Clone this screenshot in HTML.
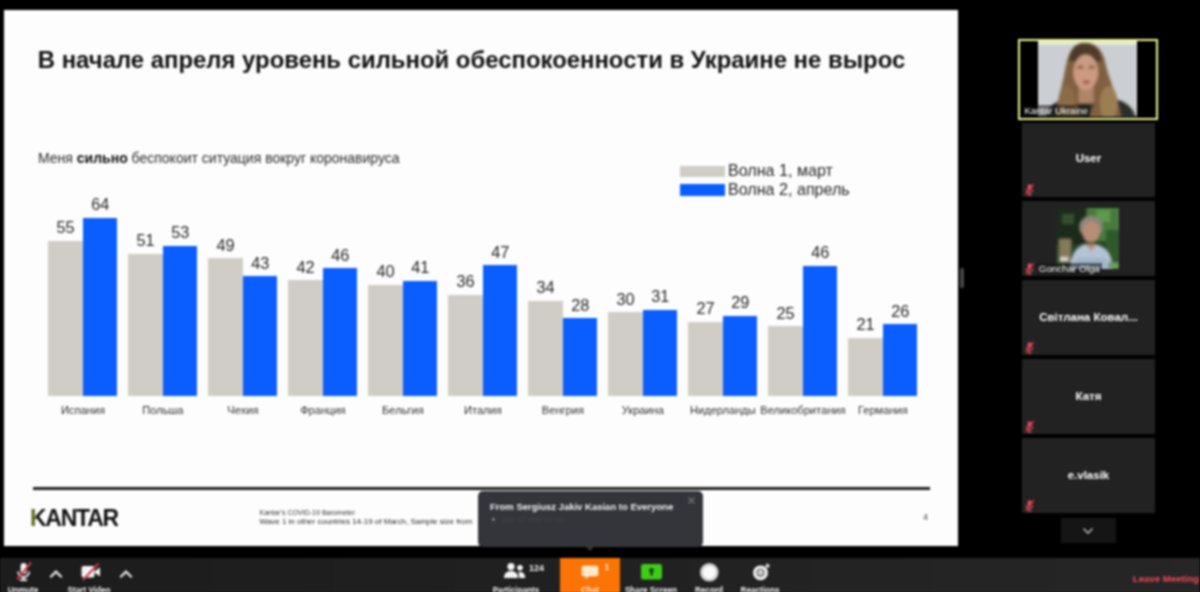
<!DOCTYPE html>
<html lang="ru"><head><meta charset="utf-8"><title>Zoom Meeting</title>
<style>
*{box-sizing:border-box;margin:0;padding:0}
html,body{position:relative;width:1200px;height:592px;overflow:hidden;background:#000;font-family:"Liberation Sans",sans-serif}
#root{position:absolute;left:-10px;top:-10px;width:1220px;height:612px;background:#000;filter:blur(.8px)}
#in{position:absolute;left:10px;top:10px;width:1200px;height:592px}
#slide{position:absolute;left:3.8px;top:10.4px;width:954px;height:535.3px;background:#fdfdfd}
#abs{position:absolute;left:0;top:0;width:1200px;height:592px}
.title{position:absolute;left:37.8px;top:45.5px;font-size:23.9px;font-weight:bold;color:#111;white-space:nowrap;letter-spacing:0px}
.sub{position:absolute;left:38px;top:150.2px;font-size:14px;color:#2c2c2c;white-space:nowrap}
.sub b{color:#111}
.bar{position:absolute;width:34.6px}
.bar.g{background:#d0cdc7}
.bar.b{background:#0a5eff;width:34.4px}
.val{position:absolute;width:40px;text-align:center;font-size:16.3px;line-height:18px;color:#262626}
.cat{position:absolute;width:100px;text-align:center;font-size:11.1px;line-height:14px;color:#303030;white-space:nowrap}
.leg{position:absolute;left:679.5px;width:45.5px;height:11.4px}
.legt{position:absolute;left:728px;font-size:16.1px;line-height:18px;color:#262626;white-space:nowrap}
.hr{position:absolute;left:32.5px;top:486.5px;width:897px;height:3px;background:#222}
.kantar{position:absolute;left:30px;top:505.8px;font-size:23px;line-height:24px;font-weight:bold;color:transparent;letter-spacing:-1.25px;white-space:nowrap;background:linear-gradient(90deg,#5f6a1c 0,#5f6a1c 6.3px,#111 6.3px);-webkit-background-clip:text;background-clip:text}
.foot1{position:absolute;left:259.5px;top:508.3px;font-size:7.05px;line-height:9px;color:#333;white-space:nowrap}
.foot2{position:absolute;left:259.5px;top:516.5px;font-size:8px;line-height:10px;color:#2a2a2a;white-space:nowrap}
.pn{position:absolute;left:923px;top:512px;font-size:9px;color:#444}
#bar{position:absolute;left:0;top:557.8px;width:1200px;height:35px;background:linear-gradient(90deg,#1c1c1c,#212121 50%,#262626)}
.tile{position:absolute;left:1022.3px;width:132.3px;height:74.5px;background:#222}
.tname{position:absolute;left:0;right:0;top:27.3px;text-align:center;color:#fff;font-weight:bold;font-size:11.5px;line-height:16px;white-space:nowrap}
.mic{position:absolute;left:1.5px;bottom:0.5px;width:11px;height:13.5px}
.lbl{position:absolute;color:#fff;font-size:9px;line-height:11px;white-space:nowrap}
.photo{position:absolute;left:34px;top:6.3px;width:63.2px;height:61px}
.tb{position:absolute;color:#f4f4f4;font-size:9.6px;font-weight:bold;white-space:nowrap;text-align:center;width:80px;top:584.4px;line-height:12px;transform:scaleX(.85)}
.car{position:absolute;top:568.5px;width:14px;height:10px}
</style></head><body>
<div id="root"><div id="in">
<div id="slide"></div>
<div id="abs">
<div class="title">В начале апреля уровень сильной обеспокоенности в Украине не вырос</div>
<div class="sub">Меня <b>сильно</b> беспокоит ситуация вокруг коронавируса</div>
<div class="leg" style="top:165.6px;background:#d0cdc7"></div>
<div class="leg" style="top:184.3px;background:#0a5eff"></div>
<div class="legt" style="top:160.7px">Волна 1, март</div>
<div class="legt" style="top:179.6px">Волна 2, апрель</div>
<div class="bar g" style="left:48.3px;top:240.5px;height:155.5px"></div>
<div class="bar b" style="left:83.1px;top:217.8px;height:178.2px"></div>
<div class="val" style="left:45.6px;top:217.8px">55</div>
<div class="val" style="left:80.3px;top:195.1px">64</div>
<div class="cat" style="left:32.9px;top:403px">Испания</div>
<div class="bar g" style="left:128.3px;top:253.7px;height:142.3px"></div>
<div class="bar b" style="left:163.1px;top:246.0px;height:150.0px"></div>
<div class="val" style="left:125.6px;top:231.0px">51</div>
<div class="val" style="left:160.3px;top:223.3px">53</div>
<div class="cat" style="left:112.9px;top:403px">Польша</div>
<div class="bar g" style="left:208.3px;top:258.4px;height:137.6px"></div>
<div class="bar b" style="left:243.1px;top:276.4px;height:119.6px"></div>
<div class="val" style="left:205.6px;top:235.7px">49</div>
<div class="val" style="left:240.3px;top:253.7px">43</div>
<div class="cat" style="left:192.9px;top:403px">Чехия</div>
<div class="bar g" style="left:288.3px;top:280.2px;height:115.8px"></div>
<div class="bar b" style="left:323.1px;top:268.2px;height:127.8px"></div>
<div class="val" style="left:285.6px;top:257.5px">42</div>
<div class="val" style="left:320.3px;top:245.5px">46</div>
<div class="cat" style="left:272.9px;top:403px">Франция</div>
<div class="bar g" style="left:368.3px;top:284.5px;height:111.5px"></div>
<div class="bar b" style="left:403.1px;top:280.8px;height:115.2px"></div>
<div class="val" style="left:365.6px;top:261.8px">40</div>
<div class="val" style="left:400.3px;top:258.1px">41</div>
<div class="cat" style="left:352.9px;top:403px">Бельгия</div>
<div class="bar g" style="left:448.3px;top:294.6px;height:101.4px"></div>
<div class="bar b" style="left:483.1px;top:265.2px;height:130.8px"></div>
<div class="val" style="left:445.6px;top:271.9px">36</div>
<div class="val" style="left:480.3px;top:242.5px">47</div>
<div class="cat" style="left:432.9px;top:403px">Италия</div>
<div class="bar g" style="left:528.3px;top:301.0px;height:95.0px"></div>
<div class="bar b" style="left:563.1px;top:318.3px;height:77.7px"></div>
<div class="val" style="left:525.6px;top:278.3px">34</div>
<div class="val" style="left:560.3px;top:295.6px">28</div>
<div class="cat" style="left:512.9px;top:403px">Венгрия</div>
<div class="bar g" style="left:608.3px;top:312.4px;height:83.6px"></div>
<div class="bar b" style="left:643.1px;top:310.0px;height:86.0px"></div>
<div class="val" style="left:605.6px;top:289.7px">30</div>
<div class="val" style="left:640.3px;top:287.3px">31</div>
<div class="cat" style="left:592.9px;top:403px">Украина</div>
<div class="bar g" style="left:688.3px;top:321.6px;height:74.4px"></div>
<div class="bar b" style="left:723.1px;top:316.1px;height:79.9px"></div>
<div class="val" style="left:685.6px;top:298.9px">27</div>
<div class="val" style="left:720.3px;top:293.4px">29</div>
<div class="cat" style="left:672.9px;top:403px">Нидерланды</div>
<div class="bar g" style="left:768.3px;top:326.3px;height:69.7px"></div>
<div class="bar b" style="left:803.1px;top:265.5px;height:130.5px"></div>
<div class="val" style="left:765.6px;top:303.6px">25</div>
<div class="val" style="left:800.3px;top:242.8px">46</div>
<div class="cat" style="left:752.9px;top:403px">Великобритания</div>
<div class="bar g" style="left:848.3px;top:337.7px;height:58.3px"></div>
<div class="bar b" style="left:883.1px;top:324.4px;height:71.6px"></div>
<div class="val" style="left:845.6px;top:315.0px">21</div>
<div class="val" style="left:880.3px;top:301.7px">26</div>
<div class="cat" style="left:832.9px;top:403px">Германия</div>
<div class="hr"></div>
<div class="kantar">KANTAR</div>
<div class="foot1">Kantar’s COVID-19 Barometer</div>
<div class="foot2">Wave 1 in other countries 14-19 of March, Sample size from &nbsp; 500 to 1000 interviews</div>
<div class="pn">4</div>

<!-- right panel -->
<div id="spk" style="position:absolute;left:1018.4px;top:38.8px;width:139.2px;height:81.6px;background:#000;border:2.8px solid #eef792">
<svg style="position:absolute;left:17.5px;top:0.4px;width:99.5px;height:75.6px" viewBox="0 0 100 75" preserveAspectRatio="none"><defs><filter id="bl" x="-10%" y="-10%" width="120%" height="120%"><feGaussianBlur stdDeviation="1.3"/></filter><clipPath id="vc"><rect width="100" height="75"/></clipPath></defs><g clip-path="url(#vc)"><rect width="100" height="75" fill="#cbcfd3"/><rect width="100" height="4" fill="#e4ead0"/><g filter="url(#bl)"><path d="M8 78C9 62 22 57 36 57L66 57C82 56 96 63 99 78Z" fill="#2a2d29"/><path d="M47 2C31 2 29 20 26 35C23 50 18 62 18 78L84 78C82 60 73 42 69 27C66 9 59 2 47 2Z" fill="#80613f"/><path d="M47 2C36 2 32 10 31 20L64 20C62 8 57 2 47 2Z" fill="#4e3a29"/><ellipse cx="71" cy="62" rx="9" ry="17" fill="#9c7e52"/><ellipse cx="29" cy="60" rx="8" ry="16" fill="#8b6c47"/><rect x="41" y="44" width="15" height="18" fill="#b08468"/><ellipse cx="48" cy="31" rx="12.500" ry="17.500" fill="#cb9a80"/><ellipse cx="42.500" cy="26" rx="3.200" ry="1.600" fill="#8a5e4c"/><ellipse cx="54" cy="26" rx="3.200" ry="1.600" fill="#8a5e4c"/><ellipse cx="48.500" cy="41" rx="3.500" ry="1.700" fill="#a44a48"/><path d="M40 62L57 62L50 78L44 78Z" fill="#3a3a34"/></g></g></svg>
<div class="lbl" style="left:2px;bottom:1px;font-size:9.5px;line-height:12px;background:rgba(10,10,10,.5);padding:0 2px">Kantar Ukraine</div>
</div>
<div class="tile" style="top:122.5px"><div class="tname" style="top:27.8px">User</div><svg class="mic" viewBox="0 0 12 14"><rect x="4" y="1" width="4" height="7" rx="2" fill="#e0525f"/><path d="M2.5 6.5a3.5 3.5 0 0 0 7 0M6 10v2.5M3.5 12.8h5" stroke="#e0525f" stroke-width="1.2" fill="none"/><path d="M10.5 1L2 12" stroke="#f03a4a" stroke-width="1.5"/></svg></div>
<div class="tile" style="top:201.3px"><svg class="photo" viewBox="0 0 63 61" preserveAspectRatio="none"><defs><filter id="bl2" x="-10%" y="-10%" width="120%" height="120%"><feGaussianBlur stdDeviation="1.1"/></filter><clipPath id="pc"><rect width="63" height="61"/></clipPath></defs><g clip-path="url(#pc)"><rect width="63" height="61" fill="#2c4528"/><g filter="url(#bl2)"><rect x="-3" y="-3" width="33" height="40" fill="#1d2b1d"/><rect x="31" y="-3" width="36" height="36" fill="#477a3c"/><rect x="50" y="22" width="16" height="30" fill="#2f5a2a"/><rect x="40" y="2" width="14" height="12" fill="#5c9a4e"/><rect x="6" y="6" width="12" height="10" fill="#34502f"/><rect x="3" y="31" width="12" height="24" fill="#85795a"/><rect x="4" y="49" width="8" height="4" fill="#d8d8cc"/><path d="M14 64C14 44 22 36 34 36C48 36 56 44 57 64Z" fill="#b4c4d6"/><path d="M20 50L50 50L52 64L18 64Z" fill="#9fb4cc"/><ellipse cx="35" cy="19" rx="11.500" ry="11" fill="#8f877c"/><ellipse cx="35" cy="24" rx="8.500" ry="10.500" fill="#b98c76"/><path d="M29 36L41 36L35 43Z" fill="#b98c76"/><rect x="52" y="54" width="11" height="7" fill="#6f9a5c"/></g></g></svg><div class="lbl" style="left:14.5px;bottom:0.5px;font-size:9.8px;line-height:12px;background:rgba(20,20,20,.55);padding:0 2px">Gonchar Olga</div><svg class="mic" viewBox="0 0 12 14"><rect x="4" y="1" width="4" height="7" rx="2" fill="#e0525f"/><path d="M2.5 6.5a3.5 3.5 0 0 0 7 0M6 10v2.5M3.5 12.8h5" stroke="#e0525f" stroke-width="1.2" fill="none"/><path d="M10.5 1L2 12" stroke="#f03a4a" stroke-width="1.5"/></svg></div>
<div class="tile" style="top:280.1px"><div class="tname" style="top:29.3px">Світлана Ковал...</div><svg class="mic" viewBox="0 0 12 14"><rect x="4" y="1" width="4" height="7" rx="2" fill="#e0525f"/><path d="M2.5 6.5a3.5 3.5 0 0 0 7 0M6 10v2.5M3.5 12.8h5" stroke="#e0525f" stroke-width="1.2" fill="none"/><path d="M10.5 1L2 12" stroke="#f03a4a" stroke-width="1.5"/></svg></div>
<div class="tile" style="top:359.0px"><div class="tname" style="top:29.3px">Катя</div><svg class="mic" viewBox="0 0 12 14"><rect x="4" y="1" width="4" height="7" rx="2" fill="#e0525f"/><path d="M2.5 6.5a3.5 3.5 0 0 0 7 0M6 10v2.5M3.5 12.8h5" stroke="#e0525f" stroke-width="1.2" fill="none"/><path d="M10.5 1L2 12" stroke="#f03a4a" stroke-width="1.5"/></svg></div>
<div class="tile" style="top:438.0px"><div class="tname" style="top:29.3px">e.vlasik</div><svg class="mic" viewBox="0 0 12 14"><rect x="4" y="1" width="4" height="7" rx="2" fill="#e0525f"/><path d="M2.5 6.5a3.5 3.5 0 0 0 7 0M6 10v2.5M3.5 12.8h5" stroke="#e0525f" stroke-width="1.2" fill="none"/><path d="M10.5 1L2 12" stroke="#f03a4a" stroke-width="1.5"/></svg></div>
<div style="position:absolute;left:1061px;top:518px;width:54.5px;height:25px;background:#151515"></div>
<svg style="position:absolute;left:1081px;top:526px;width:14px;height:10px" viewBox="0 0 14 10"><path d="M2.5 2.5L7 7l4.5-4.5" stroke="#b0b0b0" stroke-width="1.6" fill="none"/></svg>
<div style="position:absolute;left:960.3px;top:267.5px;width:4px;height:20px;background:#464646;border-radius:1.5px"></div>

<!-- toolbar -->
<div id="bar"></div>
<div style="position:absolute;left:560.3px;top:557.5px;width:60px;height:35px;background:#fb7405"></div>
<!-- mic -->
<svg style="position:absolute;left:13px;top:561px;width:22px;height:22px" viewBox="0 0 22 22"><rect x="7.6" y="2" width="6" height="11" rx="3" fill="#f4f4f4"/><path d="M5 10.5a5.6 5.6 0 0 0 11.2 0" stroke="#f4f4f4" stroke-width="1.7" fill="none"/><path d="M10.6 16v3M7 19.2h7.2" stroke="#f4f4f4" stroke-width="1.8" fill="none"/><path d="M18 1.5L4.2 18.5" stroke="#d23a4e" stroke-width="2"/></svg>
<svg class="car" style="left:49px" viewBox="0 0 14 10"><path d="M1.300 8.300L7 2.600l5.700 5.700" stroke="#e2e2e2" stroke-width="2.300" fill="none"/></svg>
<!-- video -->
<svg style="position:absolute;left:79px;top:561px;width:24px;height:22px" viewBox="0 0 24 22"><rect x="2.5" y="5" width="13" height="11.5" rx="2" fill="#f4f4f4"/><path d="M15.5 10.5l5.5-4v9l-5.5-4z" fill="#f4f4f4"/><path d="M19.5 2.5L4 19" stroke="#d23a4e" stroke-width="2"/></svg>
<svg class="car" style="left:119px" viewBox="0 0 14 10"><path d="M1.300 8.300L7 2.600l5.700 5.700" stroke="#e2e2e2" stroke-width="2.300" fill="none"/></svg>
<!-- participants -->
<svg style="position:absolute;left:503px;top:562px;width:23px;height:17px" viewBox="0 0 23 17"><circle cx="8" cy="4.6" r="3.6" fill="#f4f4f4"/><path d="M1 16c0-5 3-7 7-7s7 2 7 7z" fill="#f4f4f4"/><circle cx="17" cy="5.8" r="2.8" fill="#f4f4f4"/><path d="M15.2 10.2c4-1 7 1 7 5.8h-6c0-2.600-.3-4.400-1-5.800z" fill="#f4f4f4"/></svg>
<div style="position:absolute;left:529px;top:562.5px;font-size:9px;line-height:11px;font-weight:bold;color:#f0f0f0">124</div>
<!-- chat -->
<svg style="position:absolute;left:581px;top:564.5px;width:18px;height:15px" viewBox="0 0 18 15"><path d="M2.500.8h13a1.800 1.800 0 0 1 1.800 1.800v6.800a1.800 1.800 0 0 1-1.800 1.800H8l-3.200 3v-3H2.500a1.800 1.800 0 0 1-1.800-1.800V2.600A1.800 1.800 0 0 1 2.500.8z" fill="#ffe9cf"/></svg>
<div style="position:absolute;left:604.5px;top:562px;font-size:9px;line-height:11px;font-weight:bold;color:#ffe3c2">1</div>
<!-- share -->
<svg style="position:absolute;left:640.5px;top:564.3px;width:21px;height:15.600px" viewBox="0 0 21 15.600"><rect x="0" y="0" width="21" height="15.600" rx="2.500" fill="#3fcc19"/><path d="M10.500 3.500l3.400 3.800h-2.200v4.200h-2.400V7.300H7.100z" fill="#14380c"/></svg>
<!-- record -->
<svg style="position:absolute;left:699px;top:562px;width:21px;height:21px" viewBox="0 0 21 21"><circle cx="10.300" cy="10.300" r="9.300" fill="#cdcdcd"/><circle cx="10.300" cy="10.300" r="6.600" fill="#fafafa"/></svg>
<!-- reactions -->
<svg style="position:absolute;left:750px;top:561px;width:22px;height:22px" viewBox="0 0 22 22"><circle cx="10.500" cy="11.800" r="7.400" fill="#f6f6f6"/><circle cx="10.500" cy="11.800" r="3.800" fill="none" stroke="#333" stroke-width="1"/><circle cx="9" cy="10.800" r=".7" fill="#333"/><circle cx="12" cy="10.800" r=".7" fill="#333"/><path d="M8.500 12.800q2 1.800 4 0" stroke="#333" stroke-width=".9" fill="none"/><path d="M17.500 2.500v4.400M15.300 4.700h4.400" stroke="#f6f6f6" stroke-width="1.500"/></svg>
<div class="tb" style="left:-17px">Unmute</div>
<div class="tb" style="left:49px">Start Video</div>
<div class="tb" style="left:476px">Participants</div>
<div class="tb" style="left:550px;color:#ffe3c2">Chat</div>
<div class="tb" style="left:611px">Share Screen</div>
<div class="tb" style="left:669px">Record</div>
<div class="tb" style="left:719.500px">Reactions</div>
<div style="position:absolute;left:1132.8px;top:573px;font-size:9.6px;line-height:12px;font-weight:bold;color:#f24a5b;white-space:nowrap">Leave Meeting</div>
<!-- chat popup -->
<div style="position:absolute;left:477.5px;top:490.8px;width:225.5px;height:56px;background:#34353a;border-radius:5px"></div>
<div style="position:absolute;left:586px;top:546.5px;width:0;height:0;border-left:4px solid transparent;border-right:4px solid transparent;border-top:4px solid #34353a"></div>
<div style="position:absolute;left:490px;top:500.500px;font-size:9.5px;line-height:12px;font-weight:bold;color:#f2f2f2;white-space:nowrap">From Sergiusz Jakiv Kasian to Everyone</div>
<div style="position:absolute;left:491px;top:514.500px;font-size:8px;line-height:10px;color:#cfcfcf;white-space:nowrap">+<span style="color:#45464c;margin-left:6px">380 67 000 00 00</span></div>
<svg style="position:absolute;left:686.500px;top:495.500px;width:9px;height:9px" viewBox="0 0 9 9"><path d="M1.500 1.500l6 6M7.500 1.500l-6 6" stroke="#77787e" stroke-width="1.100"/></svg>

</div>
</div></div>
</body></html>
